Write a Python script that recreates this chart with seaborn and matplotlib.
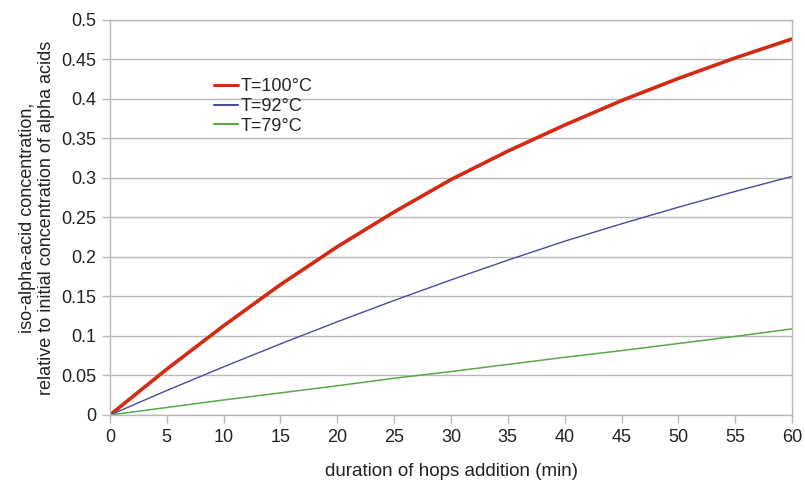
import numpy as np
import pandas as pd
import matplotlib
matplotlib.use("Agg")
import matplotlib.pyplot as plt
import seaborn as sns

# boil time (min) and iso-alpha-acid fraction
minutes = [0, 5, 10, 15, 20, 25, 30, 35, 40, 45, 50, 55, 60]
t100 = [0, 0.058, 0.113, 0.165, 0.213, 0.257, 0.298, 0.334, 0.367, 0.398, 0.426, 0.452, 0.476]
t92 = [0, 0.031, 0.061, 0.090, 0.118, 0.145, 0.171, 0.196, 0.220, 0.242, 0.263, 0.283, 0.302]
t79 = [0, 0.0095, 0.019, 0.028, 0.037, 0.0465, 0.055, 0.064, 0.073, 0.0815, 0.0905, 0.0995, 0.109]
labels = ["T=100°C", "T=92°C", "T=79°C"]

df = pd.DataFrame({"minutes": minutes, labels[0]: t100, labels[1]: t92, labels[2]: t79})
long = df.melt(id_vars="minutes", var_name="series", value_name="conc")

sns.set_style("white")
plt.rcParams["font.family"] = ["Liberation Sans", "DejaVu Sans"]

fig = plt.figure(figsize=(8.05, 4.83), dpi=100)
ax = fig.add_axes([0.1366, 0.1408, 0.8473, 0.8178])

palette = {labels[0]: "#d42a14", labels[1]: "#4a4a9c", labels[2]: "#5aa84a"}
sns.lineplot(data=long, x="minutes", y="conc", hue="series", palette=palette,
             size="series", sizes={labels[0]: 2.6, labels[1]: 1.0, labels[2]: 1.1},
             ax=ax, legend=True)

ax.set_xlim(0, 60)
ax.set_ylim(0, 0.5)
ax.set_xticks(np.arange(0, 61, 5))
ax.set_yticks(np.arange(0, 0.501, 0.05))
ax.set_xticklabels([str(v) for v in range(0, 61, 5)])
ax.set_yticklabels(["0", "0.05", "0.1", "0.15", "0.2", "0.25", "0.3", "0.35", "0.4", "0.45", "0.5"])
ax.grid(axis="y", color="#b8b8b8", linewidth=1.0)
ax.set_axisbelow(True)
for side in ["left", "right", "top", "bottom"]:
    ax.spines[side].set_visible(True)
    ax.spines[side].set_color("#b8b8b8")
    ax.spines[side].set_linewidth(1.0)
ax.tick_params(axis="both", which="both", length=6, width=1.0, color="#b8b8b8",
               labelsize=13, labelcolor="#222222", direction="out", pad=4,
               left=True, bottom=True)

ax.set_xlabel("duration of hops addition (min)", fontsize=13.5, color="#222222", labelpad=12)
ax.set_ylabel("iso-alpha-acid concentration,\nrelative to initial concentration of alpha acids",
              fontsize=13, color="#222222", labelpad=4, linespacing=1.15)

handles, hl = ax.get_legend_handles_labels()
keep = [(h, l) for h, l in zip(handles, hl) if l in labels]
leg = ax.legend([k[0] for k in keep], [k[1] for k in keep], loc="upper left",
                bbox_to_anchor=(0.14, 0.875), frameon=False, fontsize=13,
                handlelength=1.3, handletextpad=0.15, labelspacing=0.15, borderpad=0)
for line in leg.get_lines():
    line.set_linewidth(1.5)
leg.get_lines()[0].set_linewidth(2.2)

fig.savefig("out.png", dpi=100)
